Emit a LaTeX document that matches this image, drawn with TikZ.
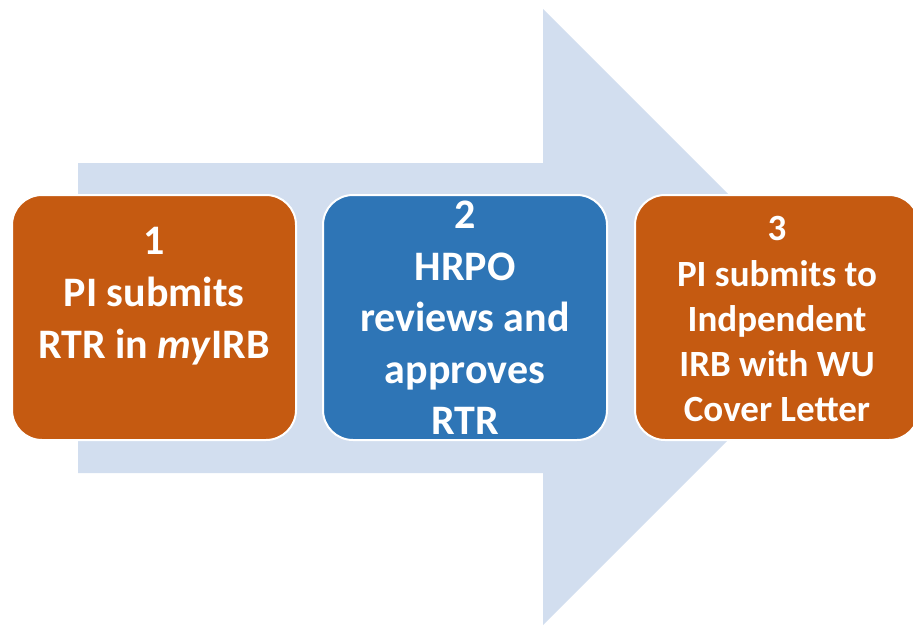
\documentclass[tikz,border=0pt]{standalone}
\usepackage{fontspec}
\setmainfont{Carlito}
\definecolor{arrowblue}{HTML}{D2DEEF}
\definecolor{boxorange}{HTML}{C55A11}
\definecolor{boxblue}{HTML}{2E75B6}
\tikzset{
  stepbox/.style={draw=white, line width=2pt, rounded corners=30pt},
  bigtxt/.style={anchor=base, inner sep=0pt, text=white, font=\fontsize{42}{52}\selectfont\bfseries},
  smalltxt/.style={anchor=base, inner sep=0pt, text=white, font=\fontsize{37}{45}\selectfont\bfseries},
}
\begin{document}
\begin{tikzpicture}[x=1pt,y=-1pt]
\useasboundingbox (0,0) rectangle (913,625);
\clip (0,0) rectangle (913,625);
% big arrow
\fill[arrowblue] (78,163) -- (543,163) -- (543,9) -- (851,317) -- (543,625) -- (543,473) -- (78,473) -- cycle;
% boxes
\filldraw[stepbox, fill=boxorange] (12,195) rectangle (296,440);
\filldraw[stepbox, fill=boxblue] (323,195) rectangle (607,440);
\filldraw[stepbox, fill=boxorange] (635,195) rectangle (919,440);
% box 1 text
\node[bigtxt] (a1) at (154,254) {1};
\node[bigtxt] (a2) at (154,306) {PI submits};
\node[bigtxt] (a3) at (154,358) {RTR in \textit{my}IRB};
% box 2 text
\node[bigtxt] (b1) at (465,228) {2};
\node[bigtxt] (b2) at (465,280) {HRPO};
\node[bigtxt] (b3) at (465,331) {reviews and};
\node[bigtxt] (b4) at (465,383) {approves};
\node[bigtxt] (b5) at (465,434) {RTR};
% box 3 text
\node[smalltxt] (c1) at (777,240) {3};
\node[smalltxt] (c2) at (777,286) {PI submits to};
\node[smalltxt] (c3) at (777,331) {Indpendent};
\node[smalltxt] (c4) at (777,376) {IRB with WU};
\node[smalltxt] (c5) at (777,421) {Cover Letter};
\end{tikzpicture}
\end{document}
